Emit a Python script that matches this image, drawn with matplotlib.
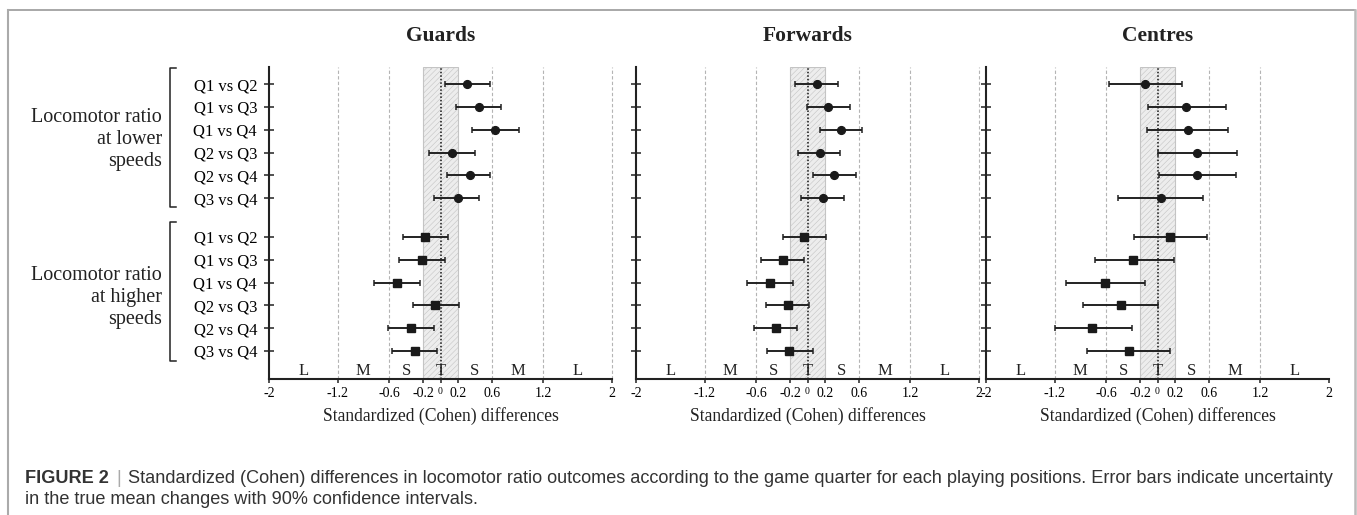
import matplotlib
matplotlib.use("Agg")
import matplotlib.pyplot as plt
from matplotlib.lines import Line2D
import numpy as np

plt.rcParams['font.family'] = 'Liberation Serif'
plt.rcParams['hatch.linewidth'] = 0.4

W, H = 1357, 515

comparisons = ['Q1 vs Q2', 'Q1 vs Q3', 'Q1 vs Q4', 'Q2 vs Q3', 'Q2 vs Q4', 'Q3 vs Q4']
positions = ['Guards', 'Forwards', 'Centres']

# standardized differences (mean, lower 90% CL, upper 90% CL)
# locomotor ratio at lower speeds
low_mean = {
    'Guards':   [0.31, 0.45, 0.63, 0.13, 0.34, 0.20],
    'Forwards': [0.11, 0.24, 0.39, 0.14, 0.31, 0.18],
    'Centres':  [-0.14, 0.33, 0.35, 0.46, 0.46, 0.035],
}
low_lo = {
    'Guards':   [0.055, 0.18, 0.37, -0.13, 0.07, -0.07],
    'Forwards': [-0.14, -0.01, 0.14, -0.11, 0.06, -0.07],
    'Centres':  [-0.56, -0.11, -0.12, 0.0, 0.02, -0.46],
}
low_hi = {
    'Guards':   [0.575, 0.71, 0.91, 0.40, 0.58, 0.45],
    'Forwards': [0.36, 0.49, 0.64, 0.38, 0.56, 0.43],
    'Centres':  [0.28, 0.80, 0.82, 0.93, 0.91, 0.53],
}
# locomotor ratio at higher speeds
high_mean = {
    'Guards':   [-0.18, -0.22, -0.51, -0.06, -0.34, -0.30],
    'Forwards': [-0.04, -0.29, -0.44, -0.23, -0.37, -0.21],
    'Centres':  [0.15, -0.28, -0.61, -0.43, -0.76, -0.33],
}
high_lo = {
    'Guards':   [-0.44, -0.48, -0.77, -0.32, -0.61, -0.56],
    'Forwards': [-0.29, -0.54, -0.70, -0.48, -0.62, -0.47],
    'Centres':  [-0.27, -0.73, -1.07, -0.87, -1.20, -0.82],
}
high_hi = {
    'Guards':   [0.09, 0.05, -0.24, 0.21, -0.08, -0.04],
    'Forwards': [0.21, -0.04, -0.17, 0.02, -0.12, 0.06],
    'Centres':  [0.58, 0.19, -0.14, 0.01, -0.30, 0.15],
}

xticks = [-2, -1.2, -0.6, -0.2, 0, 0.2, 0.6, 1.2, 2]
xticklabels = ['-2', '-1.2', '-0.6', '-0.2', '0', '0.2', '0.6', '1.2', '2']
magnitude_x = [-1.6, -0.9, -0.4, 0, 0.4, 0.9, 1.6]
magnitude_labels = ['L', 'M', 'S', 'T', 'S', 'M', 'L']

y_low = np.arange(6)
y_high = np.arange(6) + 6.7

fig = plt.figure(figsize=(W / 100, H / 100), dpi=100)


def px(x, y):
    return x / W, 1 - y / H


ax_left = [269, 636, 986]
ax_w = 343
ax_top, ax_bot = 67, 379

axes = []
for i, pos in enumerate(positions):
    ax = fig.add_axes([ax_left[i] / W, 1 - ax_bot / H, ax_w / W, (ax_bot - ax_top) / H])
    axes.append(ax)
    ax.set_xlim(-2, 2)
    ax.set_ylim(12.93, -0.75)
    for s in ['top', 'right']:
        ax.spines[s].set_visible(False)
    for s in ['left', 'bottom']:
        ax.spines[s].set_linewidth(1.5)
        ax.spines[s].set_color('#222222')

    # trivial zone
    ax.axvspan(-0.2, 0.2, facecolor='#ededed', edgecolor='#c4c4c4', hatch='//////',
               lw=0.8, zorder=0)
    grid_x = [-1.2, -0.6, 0.6, 1.2] + ([2] if pos != 'Centres' else [])
    for gx in grid_x:
        ax.axvline(gx, color='#b4b4b4', lw=0.8, ls=(0, (3, 2)), zorder=0, clip_on=False)
    ax.axvline(0, color='#111111', lw=1.1, ls=(0, (1, 1.3)), zorder=1)

    ax.errorbar(low_mean[pos], y_low,
                xerr=[np.subtract(low_mean[pos], low_lo[pos]), np.subtract(low_hi[pos], low_mean[pos])],
                fmt='o', ms=5.6, color='#1a1a1a', ecolor='#222222', elinewidth=1.4,
                capsize=2.3, capthick=1.1, zorder=3)
    ax.errorbar(high_mean[pos], y_high,
                xerr=[np.subtract(high_mean[pos], high_lo[pos]), np.subtract(high_hi[pos], high_mean[pos])],
                fmt='s', ms=6.0, color='#1a1a1a', ecolor='#222222', elinewidth=1.4,
                capsize=2.3, capthick=1.1, zorder=3)

    ax.set_yticks(list(y_low) + list(y_high))
    ax.set_yticklabels(comparisons + comparisons, fontsize=12)
    ax.tick_params(axis='y', direction='inout', length=7.2, width=1.1, color='#222222',
                   pad=5, labelleft=(i == 0))
    ax.set_xticks(xticks)
    ax.set_xticklabels(xticklabels, fontsize=10)
    ax.tick_params(axis='x', direction='out', length=3, width=1.1, color='#222222', pad=3)
    ax.get_xticklabels()[4].set_fontsize(7)

    for mx, ml in zip(magnitude_x, magnitude_labels):
        ax.text(mx, 0.013, ml, transform=ax.get_xaxis_transform(), ha='center',
                va='baseline', fontsize=12, color='#222222')

    cx = ax_left[i] + ax_w / 2
    fig.text(*px(cx, 41), pos, ha='center', va='baseline', fontsize=15.5,
             fontweight='bold', color='#222222')
    fig.text(*px(cx, 421), 'Standardized (Cohen) differences', ha='center',
             va='baseline', fontsize=12.7, color='#222222')

# group labels with brackets
groups = [(['Locomotor ratio', 'at lower', 'speeds'], [122, 144, 166], 68, 207),
          (['Locomotor ratio', 'at higher', 'speeds'], [280, 302, 324], 222, 361)]
for lines, ys, top, bot in groups:
    for txt, yb in zip(lines, ys):
        fig.text(*px(162, yb), txt, ha='right', va='baseline', fontsize=14.5, color='#222222')
    xs, yv = zip(px(176, top), px(170, top), px(170, bot), px(176, bot))
    fig.add_artist(Line2D(xs, yv, color='#222222', lw=1.1))

# outer frame
fig.add_artist(Line2D(*zip(px(8, 10), px(1355, 10)), color='#999999', lw=1.2))
fig.add_artist(Line2D(*zip(px(8, 10), px(8, 515)), color='#aaaaaa', lw=1.5))
fig.add_artist(Line2D(*zip(px(1355, 10), px(1355, 515)), color='#bbbbbb', lw=1.8))

# caption
cap_head = 'FIGURE 2'
cap_line1 = ('Standardized (Cohen) differences in locomotor ratio outcomes according to the game '
             'quarter for each playing positions. Error bars indicate uncertainty')
cap_line2 = 'in the true mean changes with 90% confidence intervals.'
sans = ['Liberation Sans', 'DejaVu Sans']
renderer = fig.canvas.get_renderer()
fs = 12
y_cap1, y_cap2 = 483, 504
t_head = fig.text(*px(25, y_cap1), cap_head, fontsize=fs, fontweight='bold', family=sans,
                  color='#333333', va='baseline')
t_bar = fig.text(0, 0, '|', fontsize=fs, family=sans, color='#aaaaaa', va='baseline')
t_1 = fig.text(0, 0, cap_line1, fontsize=fs, family=sans, color='#333333', va='baseline')
t_2 = fig.text(*px(25, y_cap2), cap_line2, fontsize=fs, family=sans, color='#333333', va='baseline')


def layout_caption():
    x_end = t_head.get_window_extent(renderer).x1
    t_bar.set_position(px(x_end + 7, y_cap1))
    x_end = t_bar.get_window_extent(renderer).x1
    t_1.set_position(px(x_end + 7, y_cap1))
    return t_1.get_window_extent(renderer).x1


right = layout_caption()
scale = (1337 - 25) / (right - 25)
for t in (t_head, t_bar, t_1, t_2):
    t.set_fontsize(fs * scale)
layout_caption()

fig.savefig('out.png', dpi=100)
